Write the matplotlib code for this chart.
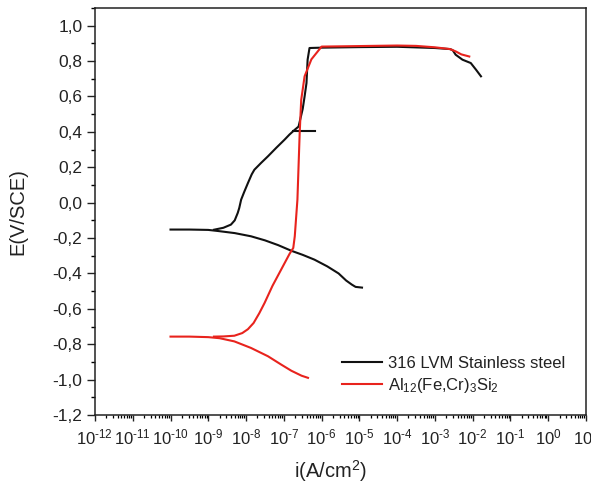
import numpy as np
import matplotlib
matplotlib.use("Agg")
import matplotlib.pyplot as plt
from matplotlib.ticker import LogLocator, MultipleLocator, FuncFormatter, NullFormatter

plt.rcParams['font.family'] = ['Liberation Sans', 'DejaVu Sans']
plt.rcParams['mathtext.fontset'] = 'custom'
plt.rcParams['mathtext.rm'] = 'Liberation Sans'
plt.rcParams['mathtext.it'] = 'Liberation Sans:italic'
plt.rcParams['mathtext.bf'] = 'Liberation Sans:bold'
plt.rcParams['axes.unicode_minus'] = False

# Potentiodynamic polarisation curves: log10 of current density and potential (V vs SCE)
steel_cath_logi = [-10.0, -9.5, -9.0, -8.75, -8.3, -7.87, -7.5, -7.15, -6.8, -6.5,
                   -6.19, -5.85, -5.55, -5.35, -5.2, -5.1, -4.93]
steel_cath_E = [-0.152, -0.152, -0.154, -0.16, -0.172, -0.19, -0.213, -0.24, -0.272, -0.295,
                -0.322, -0.36, -0.40, -0.44, -0.463, -0.476, -0.48]

steel_anod_logi = [-8.85, -8.6, -8.4, -8.3, -8.22, -8.18, -8.13, -8.05, -7.95, -7.85,
                   -7.78, -7.6, -7.42, -7.2, -6.98, -6.85, -6.71, -6.61, -6.5, -6.45,
                   -6.4, -6.37, -6.32, -6.0, -5.0, -4.0, -3.0, -2.6, -2.53, -2.45,
                   -2.27, -2.05, -1.91, -1.78]
steel_anod_E = [-0.153, -0.142, -0.124, -0.10, -0.058, -0.03, 0.017, 0.06, 0.111, 0.16,
                0.186, 0.225, 0.262, 0.31, 0.356, 0.385, 0.412, 0.43, 0.53, 0.60,
                0.676, 0.808, 0.874, 0.876, 0.879, 0.881, 0.874, 0.868, 0.862, 0.836,
                0.808, 0.789, 0.751, 0.714]

steel_stub_logi = [-6.75, -6.18]
steel_stub_E = [0.407, 0.407]

alloy_cath_logi = [-10.0, -9.5, -9.0, -8.7, -8.31, -7.87, -7.42, -7.07, -6.8, -6.53, -6.36]
alloy_cath_E = [-0.757, -0.757, -0.76, -0.766, -0.784, -0.821, -0.868, -0.915, -0.95, -0.978, -0.99]

alloy_anod_logi = [-8.85, -8.6, -8.31, -8.1, -7.95, -7.8, -7.65, -7.51, -7.3, -7.07,
                   -6.85, -6.75, -6.71, -6.64, -6.58, -6.54, -6.45, -6.27, -6.0, -5.0,
                   -4.0, -3.5, -3.0, -2.6, -2.45, -2.3, -2.09]
alloy_anod_E = [-0.757, -0.756, -0.752, -0.737, -0.715, -0.680, -0.625, -0.567, -0.47, -0.378,
                -0.29, -0.256, -0.19, 0.017, 0.394, 0.58, 0.714, 0.81, 0.882, 0.885,
                0.888, 0.886, 0.878, 0.868, 0.855, 0.838, 0.826]

x_ticks_exp = list(range(-12, 2))
y_ticks = [-1.2, -1.0, -0.8, -0.6, -0.4, -0.2, 0.0, 0.2, 0.4, 0.6, 0.8, 1.0]

steel_label = '316 LVM Stainless steel'
alloy_label = r'Al$_{12}$(Fe,Cr)$_3$Si$_2$'

BLACK = '#111111'
RED = '#e8231d'
TEXT = '#222222'

fig = plt.figure(figsize=(5.91, 4.86), dpi=100)
ax = fig.add_axes([0.1607, 0.1461, 0.8308, 0.8374])

def cur(logi):
    return 10.0 ** np.asarray(logi)

lw = 1.5
ax.plot(cur(steel_cath_logi), steel_cath_E, color=BLACK, lw=lw)
ax.plot(cur(steel_anod_logi), steel_anod_E, color=BLACK, lw=lw, label=steel_label)
ax.plot(cur(steel_stub_logi), steel_stub_E, color=BLACK, lw=lw)
ax.plot(cur(alloy_cath_logi), alloy_cath_E, color=RED, lw=lw)
ax.plot(cur(alloy_anod_logi), alloy_anod_E, color=RED, lw=lw, label=alloy_label)

ax.set_xscale('log')
ax.set_xlim(1e-12, 1e1)
ax.set_ylim(-1.2, 1.1)

ax.xaxis.set_minor_locator(LogLocator(base=10, subs=np.arange(2, 10), numticks=300))
ax.xaxis.set_minor_formatter(NullFormatter())
ax.set_xticks([10.0 ** e for e in x_ticks_exp])


def exp_label(e):
    sign = r'\text{-}' if e < 0 else ''
    return r'$\mathdefault{10^{%s%d}}$' % (sign, abs(e))


ax.set_xticklabels([exp_label(e) for e in x_ticks_exp])

ax.set_yticks(y_ticks)
ax.yaxis.set_minor_locator(MultipleLocator(0.1))
ax.yaxis.set_major_formatter(FuncFormatter(
    lambda v, p: ('%.1f' % (0.0 if abs(v) < 1e-9 else v)).replace('.', ',')))

for side in ['top', 'right', 'bottom', 'left']:
    ax.spines[side].set_linewidth(1.1)
    ax.spines[side].set_color(TEXT)

ax.tick_params(axis='y', which='major', direction='out', length=6, width=1.0, pad=3,
               labelsize=12.5, colors=TEXT)
ax.tick_params(axis='y', which='minor', direction='out', length=3, width=1.0)
ax.tick_params(axis='x', which='major', direction='out', length=4, width=1.0, pad=5,
               labelsize=12, colors=TEXT)
ax.tick_params(axis='x', which='minor', direction='out', length=2.5, width=0.9)

ax.set_xlabel(r'i(A/cm$^2$)', fontsize=14.5, color=TEXT)
ax.set_ylabel('E(V/SCE)', fontsize=14.5, color=TEXT)
ax.xaxis.set_label_coords(0.479, -0.105)
ax.yaxis.set_label_coords(-0.137, 0.5)

leg = ax.legend(loc='upper left', bbox_to_anchor=(0.503, 0.145), frameon=False,
                fontsize=12, handlelength=2.4, handletextpad=0.35, labelspacing=0.3,
                borderpad=0, borderaxespad=0)
for t in leg.get_texts():
    t.set_color(TEXT)

fig.savefig('out.png', dpi=100)
